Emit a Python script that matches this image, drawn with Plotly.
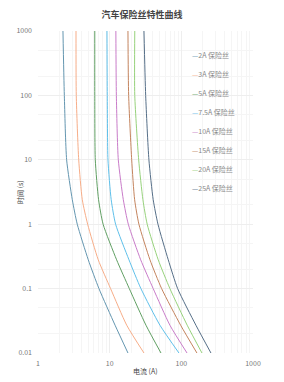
import plotly.graph_objects as go

times = [1000, 100, 10, 2.4, 1, 0.28, 0.1, 0.027, 0.01]

names = ["2A 保险丝", "3A 保险丝", "5A 保险丝", "7.5A 保险丝",
         "10A 保险丝", "15A 保险丝", "20A 保险丝", "25A 保险丝"]

cur_2a = [2.23, 2.33, 2.51, 3.01, 3.53, 5.03, 7.09, 11.9, 18.0]
cur_3a = [3.39, 3.42, 3.70, 4.15, 4.93, 6.93, 10.3, 17.3, 30.1]
cur_5a = [6.2, 6.2, 6.3, 7.0, 8.1, 12.5, 18.8, 32.1, 52.0]
cur_7_5a = [9.17, 9.26, 9.47, 10.5, 12.1, 18.6, 27.3, 50.3, 92.6]
cur_10a = [12.2, 12.4, 13.2, 15.5, 18.2, 27.1, 40.5, 69.3, 120.0]
cur_15a = [18.0, 18.4, 20.3, 22.3, 25.6, 36.5, 53.1, 97.8, 165.0]
cur_20a = [22.4, 22.4, 25.4, 29.1, 33.4, 47.6, 69.3, 120.8, 194.0]
cur_25a = [30.1, 31.8, 35.3, 40.5, 47.2, 65.7, 88.8, 159.8, 259.0]

series = [cur_2a, cur_3a, cur_5a, cur_7_5a, cur_10a, cur_15a, cur_20a, cur_25a]
colors = ["#6496b0", "#f7ad88", "#609f63", "#5fc0ea",
          "#c97cc9", "#c4845e", "#97d27c", "#566f88"]

fig = go.Figure()
for name, cur, col in zip(names, series, colors):
    fig.add_trace(go.Scatter(
        x=cur, y=times, mode="lines", name=name, showlegend=False,
        line=dict(color=col, width=1, shape="spline", smoothing=0.6),
    ))

# legend drawn as text entries (short coloured dash + label)
leg_x = 0.705
leg_y0 = 0.926
leg_step = 19 / 322
for i, (name, col) in enumerate(zip(names, colors)):
    fig.add_annotation(
        x=leg_x, y=leg_y0 - i * leg_step, xref="paper", yref="paper",
        xanchor="left", yanchor="middle", showarrow=False,
        text=f"<span style='color:{col}'>—</span>{name}",
        font=dict(size=7, color="#888"),
    )

fig.add_annotation(
    x=-0.084, y=0.5, xref="paper", yref="paper", textangle=-90,
    xanchor="center", yanchor="middle", showarrow=False,
    text="时间 (s)", font=dict(size=7, color="#444"),
)
fig.add_annotation(
    x=0.5, y=-0.056, xref="paper", yref="paper",
    xanchor="center", yanchor="middle", showarrow=False,
    text="电流 (A)", font=dict(size=7, color="#444"),
)

grid = "#eeeeee"
fig.update_layout(
    width=284, height=382,
    margin=dict(l=38, r=31, t=31, b=29),
    paper_bgcolor="white", plot_bgcolor="white",
    font=dict(family="Noto Sans CJK SC, Noto Sans, sans-serif", size=7, color="#666"),
    title=dict(text="<b>汽车保险丝特性曲线</b>", x=0.5, xanchor="center", y=0.96, yanchor="middle",
               font=dict(size=9, color="#444")),
    showlegend=False,
)
fig.update_xaxes(
    type="log", range=[0, 3], dtick=1, showgrid=True, gridcolor=grid, gridwidth=1,
    zeroline=False, showline=False, ticks="", ticklabelstandoff=5,
    minor=dict(showgrid=True, gridcolor="#f5f5f5", dtick="D1"),
    tickfont=dict(size=7, color="#777"),
)
fig.update_yaxes(
    type="log", range=[-2, 3], dtick=1, showgrid=True, gridcolor=grid, gridwidth=1,
    zeroline=False, showline=False, ticks="", ticklabelstandoff=5,
    minor=dict(showgrid=True, gridcolor="#f5f5f5", dtick="D2"),
    tickfont=dict(size=7, color="#777"),
)

fig.write_html("out.html")
